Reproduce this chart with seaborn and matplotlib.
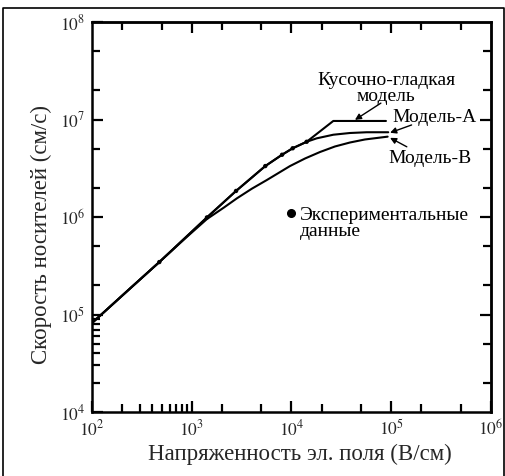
import matplotlib
matplotlib.use("Agg")
import matplotlib.pyplot as plt
from matplotlib.lines import Line2D
import pandas as pd
import seaborn as sns

# Experimental carrier velocity (cm/s) vs electric field (V/cm)
exp_field = [473, 1420, 2780, 5460, 8040, 10280, 14190]
exp_velocity = [3.45e5, 9.9e5, 1.85e6, 3.33e6, 4.35e6, 5.07e6, 5.91e6]

# Piecewise-smooth model
piecewise_field = [100, 473, 1420, 2780, 5460, 8040, 10280, 14190, 26240, 88500]
piecewise_velocity = [8.18e4, 3.45e5, 9.9e5, 1.85e6, 3.33e6, 4.35e6, 5.07e6,
                      5.91e6, 9.66e6, 9.66e6]

# Model A
model_a_field = [100, 473, 1420, 2780, 5460, 8040, 10280, 14190, 17900,
                 26240, 38550, 56700, 93300]
model_a_velocity = [8.18e4, 3.45e5, 9.9e5, 1.85e6, 3.33e6, 4.35e6, 5.07e6,
                    5.91e6, 6.41e6, 6.98e6, 7.27e6, 7.40e6, 7.40e6]

# Model B
model_b_field = [100, 240, 473, 890, 1420, 2100, 2825, 4000, 5640, 9660,
                 13650, 19300, 27300, 38600, 54500, 92000]
model_b_velocity = [8.18e4, 1.85e5, 3.45e5, 6.23e5, 9.53e5, 1.25e6, 1.55e6,
                    1.95e6, 2.39e6, 3.33e6, 3.98e6, 4.64e6, 5.29e6, 5.81e6,
                    6.24e6, 6.67e6]

# Axis ticks
x_major = [1e2, 1e3, 1e4, 1e5, 1e6]
x_tick_labels = ["$10^{2}$", "$10^{3}$", "$10^{4}$", "$10^{5}$", "$10^{6}$"]
y_major = [1e4, 1e5, 1e6, 1e7, 1e8]
y_tick_labels = ["$10^{4}$", "$10^{5}$", "$10^{6}$", "$10^{7}$", "$10^{8}$"]
x_minor_bottom = [200, 300, 400, 500, 600, 700, 800, 900,
                  2e3, 5e3, 2e4, 5e4, 2e5, 5e5]
x_minor_top = [200, 500, 2e3, 5e3, 2e4, 5e4, 2e5, 5e5]
y_minor_left = [2e4, 3e4, 4e4, 5e4, 6e4, 7e4, 8e4, 9e4,
                2e5, 5e5, 2e6, 5e6, 2e7, 5e7]
y_minor_right = [2e4, 5e4, 2e5, 5e5, 2e6, 5e6, 2e7, 5e7]

sns.set_theme(style="ticks")
plt.rcParams["font.family"] = ["Liberation Serif", "DejaVu Serif"]
plt.rcParams["mathtext.fontset"] = "stix"

fig = plt.figure(figsize=(5.06, 4.76), dpi=100)
ax = fig.add_axes([92 / 506, 1 - 412 / 476, 399 / 506, 390 / 476])
ax.set_xscale("log")
ax.set_yscale("log")

line_kw = dict(color="black", linewidth=1.5, sort=False, legend=False)
sns.lineplot(data=pd.DataFrame({"E": piecewise_field, "v": piecewise_velocity}),
             x="E", y="v", ax=ax, **line_kw)
sns.lineplot(data=pd.DataFrame({"E": model_a_field, "v": model_a_velocity}),
             x="E", y="v", ax=ax, **line_kw)
sns.lineplot(data=pd.DataFrame({"E": model_b_field, "v": model_b_velocity}),
             x="E", y="v", ax=ax, **line_kw)
sns.scatterplot(data=pd.DataFrame({"E": exp_field, "v": exp_velocity}),
                x="E", y="v", ax=ax, color="black", s=10, edgecolor="none",
                zorder=5, legend=False)

ax.set_xlim(1e2, 1e6)
ax.set_ylim(1e4, 1e8)

# Bottom / left axes
ax.set_xticks(x_major, labels=x_tick_labels)
ax.set_xticks(x_minor_bottom, minor=True)
ax.set_yticks(y_major, labels=y_tick_labels)
ax.set_yticks(y_minor_left, minor=True)
ax.xaxis.set_minor_formatter(plt.NullFormatter())
ax.yaxis.set_minor_formatter(plt.NullFormatter())
ax.tick_params(which="both", direction="in", width=1.6, color="black",
               top=False, right=False, labelsize=12.5, pad=5)
ax.tick_params(which="major", length=8)
ax.tick_params(which="minor", length=5.5)
for s in ax.spines.values():
    s.set_linewidth(1.8)
    s.set_color("black")

# Top / right axes carry their own minor ticks
top = ax.secondary_xaxis("top")
top.set_xticks(x_major[1:-1], labels=[])
top.set_xticks(x_minor_top, minor=True)
top.xaxis.set_minor_formatter(plt.NullFormatter())
top.tick_params(which="both", direction="in", width=1.6, color="black")
top.tick_params(which="major", length=8)
top.tick_params(which="minor", length=5.5)
top.spines["top"].set_linewidth(1.8)

right = ax.secondary_yaxis("right")
right.set_yticks(y_major[1:-1], labels=[])
right.set_yticks(y_minor_right, minor=True)
right.yaxis.set_minor_formatter(plt.NullFormatter())
right.tick_params(which="both", direction="in", width=1.6, color="black")
right.tick_params(which="major", length=8)
right.tick_params(which="minor", length=5.5)
right.spines["right"].set_linewidth(1.8)

ax.set_xlabel("Напряженность эл. поля (В/см)", fontsize=16.5)
ax.xaxis.label.set_va("center")
ax.xaxis.set_label_coords(0.52, -0.108)
ax.set_ylabel("Скорость носителей (см/с)", fontsize=16.5)
ax.yaxis.label.set_va("center")
ax.yaxis.set_label_coords(-0.128, 0.454)

# Annotations
txt_kw = dict(transform=ax.transAxes, fontsize=14, color="black")
arrow_kw = dict(arrowstyle="-|>", color="black", lw=1.0, mutation_scale=9,
                shrinkA=0, shrinkB=0)
ax.text(0.737, 0.851, "Кусочно-гладкая", ha="center", va="center", **txt_kw)
ax.text(0.737, 0.808, "модель", ha="center", va="center", **txt_kw)
ax.annotate("", xy=(0.659, 0.749), xytext=(0.724, 0.792),
            xycoords="axes fraction", arrowprops=arrow_kw)

ax.text(0.754, 0.756, "Модель-А", ha="left", va="center", **txt_kw)
ax.annotate("", xy=(0.747, 0.716), xytext=(0.801, 0.736),
            xycoords="axes fraction", arrowprops=arrow_kw)

ax.text(0.742, 0.651, "Модель-В", ha="left", va="center", **txt_kw)
ax.annotate("", xy=(0.747, 0.703), xytext=(0.789, 0.680),
            xycoords="axes fraction", arrowprops=arrow_kw)

ax.plot([0.499], [0.511], "o", color="black", markersize=5.5,
        transform=ax.transAxes, clip_on=False)
ax.text(0.521, 0.505, "Экспериментальные", ha="left", va="center", **txt_kw)
ax.text(0.521, 0.464, "данные", ha="left", va="center", **txt_kw)

# Frame around the figure
fig.add_artist(Line2D([3 / 506, 3 / 506, 504.5 / 506, 504.5 / 506],
                      [0, 1 - 8 / 476, 1 - 8 / 476, 0],
                      transform=fig.transFigure, color="black", lw=1.2))

fig.savefig("out.png", dpi=100)
